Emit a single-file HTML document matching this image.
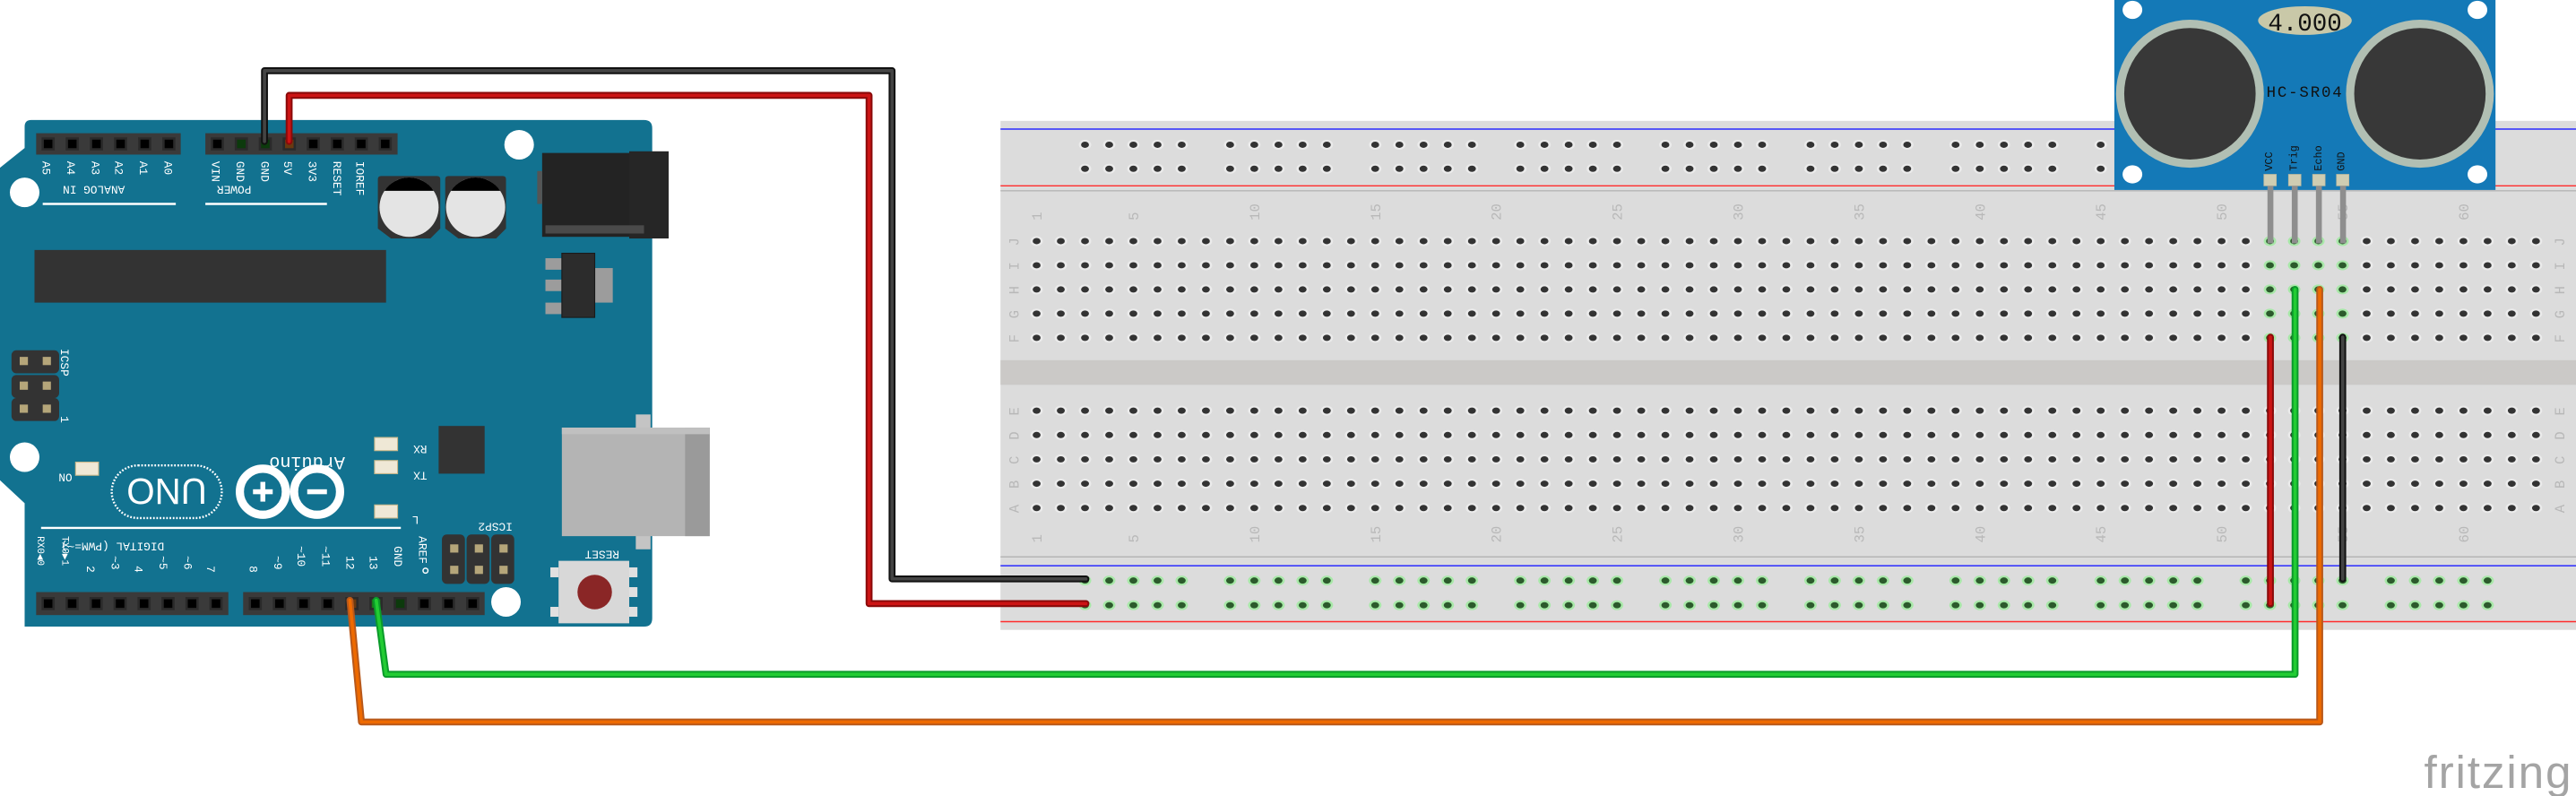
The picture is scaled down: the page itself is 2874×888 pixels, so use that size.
<!DOCTYPE html>
<html><head><meta charset="utf-8"><style>
html,body{margin:0;padding:0;background:#fff}
svg{display:block}
text{font-family:"Liberation Mono","DejaVu Sans Mono",monospace}
</style></head><body>
<svg id="s" width="2874" height="888" viewBox="0 0 1568 484" preserveAspectRatio="none" xmlns="http://www.w3.org/2000/svg">
<rect x="609" y="73.5" width="959" height="309.5" fill="#dcdcdc"/>
<rect x="609" y="219" width="959" height="15" fill="#cbc9c7"/>
<line x1="609" y1="78.5" x2="1568" y2="78.5" stroke="#2b2bff" stroke-width="0.8"/>
<line x1="609" y1="113" x2="1568" y2="113" stroke="#ff2b2b" stroke-width="0.8"/>
<line x1="609" y1="116" x2="1568" y2="116" stroke="#b5b5b5" stroke-width="0.8"/>
<line x1="609" y1="338.6" x2="1568" y2="338.6" stroke="#b5b5b5" stroke-width="0.8"/>
<line x1="609" y1="344" x2="1568" y2="344" stroke="#2b2bff" stroke-width="0.8"/>
<line x1="609" y1="378" x2="1568" y2="378" stroke="#ff2b2b" stroke-width="0.8"/>
<g id="holes"></g>
<g id="bblabels" fill="#b8b8b8" font-size="8.5"></g>

<path d="M19 73 H392 Q397 73 397 78 V376 Q397 381 392 381 H15 V306 L0 292 V102 L15 90 V77 Q15 73 19 73 Z" fill="#127290"/>
<rect x="22" y="81" width="88" height="13" fill="#3a3a3a"/>
<rect x="125" y="81" width="117" height="13" fill="#3a3a3a"/>
<rect x="22" y="360" width="117" height="14" fill="#3a3a3a"/>
<rect x="148" y="360" width="147" height="14" fill="#3a3a3a"/>
<g id="pins"></g>
<g fill="#fff" font-size="7">
<text transform="translate(26,98) rotate(90)">A5</text>
<text transform="translate(41,98) rotate(90)">A4</text>
<text transform="translate(56,98) rotate(90)">A3</text>
<text transform="translate(70,98) rotate(90)">A2</text>
<text transform="translate(85,98) rotate(90)">A1</text>
<text transform="translate(100,98) rotate(90)">A0</text>
<text transform="translate(129,98) rotate(90)">VIN</text>
<text transform="translate(144,98) rotate(90)">GND</text>
<text transform="translate(159,98) rotate(90)">GND</text>
<text transform="translate(173,98) rotate(90)">5V</text>
<text transform="translate(188,98) rotate(90)">3V3</text>
<text transform="translate(203,98) rotate(90)">RESET</text>
<text transform="translate(217,98) rotate(90)">IOREF</text>
<text transform="translate(76,113) rotate(180)">ANALOG IN</text>
<text transform="translate(153,113) rotate(180)">POWER</text>
<text transform="translate(100,330) rotate(180)">DIGITAL (PWM=~)</text>
<text transform="translate(23,326) rotate(90)" font-size="6">RX0◀0</text>
<text transform="translate(38,326) rotate(90)" font-size="6">TX0▶1</text>
<text transform="translate(53,344) rotate(90)">2</text>
<text transform="translate(68,338) rotate(90)">~3</text>
<text transform="translate(82,344) rotate(90)">4</text>
<text transform="translate(97,338) rotate(90)">~5</text>
<text transform="translate(112,338) rotate(90)">~6</text>
<text transform="translate(126,344) rotate(90)">7</text>
<text transform="translate(152,344) rotate(90)">8</text>
<text transform="translate(167,338) rotate(90)">~9</text>
<text transform="translate(181,332) rotate(90)">~10</text>
<text transform="translate(196,332) rotate(90)">~11</text>
<text transform="translate(211,338) rotate(90)">12</text>
<text transform="translate(225,338) rotate(90)">13</text>
<text transform="translate(240,332) rotate(90)">GND</text>
<text transform="translate(255,326) rotate(90)">AREF</text>
<text transform="translate(312,318) rotate(180)">ICSP2</text>
<text transform="translate(37,212) rotate(90)">ICSP</text>
<text transform="translate(37,253) rotate(90)">1</text>
<text transform="translate(44,288) rotate(180)">ON</text>
<text transform="translate(260,271) rotate(180)">RX</text>
<text transform="translate(260,287) rotate(180)">TX</text>
<text transform="translate(255,314) rotate(180)">L</text>
<text transform="translate(377,335) rotate(180)">RESET</text>
<text transform="translate(210,278) rotate(180)" font-size="11">Arduino</text>
</g>
<line x1="26" y1="124" x2="107" y2="124" stroke="#fff" stroke-width="1.3"/>
<line x1="125" y1="124" x2="199" y2="124" stroke="#fff" stroke-width="1.3"/>
<line x1="25" y1="321" x2="244" y2="321" stroke="#fff" stroke-width="1.3"/>
<circle cx="259" cy="347" r="1.5" fill="none" stroke="#fff" stroke-width="0.8"/>
<rect x="68" y="283" width="67" height="32" rx="16" fill="none" stroke="#fff" stroke-width="1.3" stroke-dasharray="1 1"/>
<text x="101.5" y="307" fill="#fff" font-size="22" text-anchor="middle" style="font-family:'Liberation Sans',sans-serif" transform="rotate(180 101.5 299)">UNO</text>
<circle cx="160" cy="299" r="14" fill="none" stroke="#fff" stroke-width="5"/>
<circle cx="193" cy="299" r="14" fill="none" stroke="#fff" stroke-width="5"/>
<rect x="154" y="297.5" width="12" height="3" fill="#fff"/><rect x="158.5" y="293" width="3" height="12" fill="#fff"/>
<rect x="187" y="297.5" width="12" height="3" fill="#fff"/>
<rect x="21" y="152" width="214" height="32" fill="#333"/>
<g>
<path d="M232 107 H266 Q268 107 268 109 V139 L262 145 H238 L230 139 V109 Q230 107 232 107Z" fill="#333"/>
<circle cx="249" cy="126" r="18" fill="#e4e4e4"/>
<path d="M234 116 A18 18 0 0 1 264 116 Z" fill="#000"/>
<path d="M273 107 H306 Q308 107 308 109 V139 L302 145 H279 L271 139 V109 Q271 107 273 107Z" fill="#333"/>
<circle cx="289.5" cy="126" r="18" fill="#e4e4e4"/>
<path d="M274.5 116 A18 18 0 0 1 304.5 116 Z" fill="#000"/>
</g>
<rect x="330" y="93" width="64" height="51" fill="#232323"/>
<rect x="383" y="92" width="24" height="53" fill="#262626"/>
<rect x="332" y="137" width="60" height="5" fill="#4a4a4a"/>
<rect x="327" y="104" width="3" height="20" fill="#555"/>
<rect x="332" y="157" width="10" height="7" fill="#9c9c9c"/>
<rect x="332" y="170" width="10" height="7" fill="#9c9c9c"/>
<rect x="332" y="184" width="10" height="7" fill="#9c9c9c"/>
<rect x="362" y="163" width="11" height="21" fill="#9c9c9c"/>
<rect x="342" y="154" width="20" height="39" fill="#2c2c2c" stroke="#1a1a1a" stroke-width="0.6"/>
<rect x="267" y="259" width="28" height="29" fill="#333"/>
<rect x="228" y="266" width="14" height="8" fill="#efe8d6" stroke="#c9b88a" stroke-width="0.6"/>
<rect x="228" y="280" width="14" height="8" fill="#efe8d6" stroke="#c9b88a" stroke-width="0.6"/>
<rect x="228" y="307" width="14" height="8" fill="#efe8d6" stroke="#c9b88a" stroke-width="0.6"/>
<rect x="46" y="281" width="14" height="8" fill="#efe8d6" stroke="#c9b88a" stroke-width="0.6"/>
<g fill="#333">
<rect x="7" y="213" width="29" height="14" rx="3"/><rect x="7" y="228" width="29" height="14" rx="3"/><rect x="7" y="242" width="29" height="14" rx="3"/>
<rect x="269" y="325" width="14" height="30" rx="3"/><rect x="284" y="325" width="14" height="30" rx="3"/><rect x="299" y="325" width="14" height="30" rx="3"/>
</g>
<g fill="#b5a67a">
<rect x="12" y="217" width="5" height="5"/><rect x="26" y="217" width="5" height="5"/>
<rect x="12" y="232" width="5" height="5"/><rect x="26" y="232" width="5" height="5"/>
<rect x="12" y="246" width="5" height="5"/><rect x="26" y="246" width="5" height="5"/>
<rect x="274" y="331" width="5" height="5"/><rect x="289" y="331" width="5" height="5"/><rect x="304" y="331" width="5" height="5"/>
<rect x="274" y="344" width="5" height="5"/><rect x="289" y="344" width="5" height="5"/><rect x="304" y="344" width="5" height="5"/>
</g>
<rect x="387" y="252" width="9" height="82" fill="#c4c4c4"/>
<rect x="342" y="260" width="90" height="66" fill="#b4b4b4"/>
<rect x="417" y="260" width="15" height="66" fill="#9a9a9a"/>
<rect x="342" y="260" width="90" height="4" fill="#c0c0c0"/>
<rect x="335" y="345" width="5" height="6" fill="#e0e0e0"/><rect x="383" y="345" width="5" height="6" fill="#e0e0e0"/>
<rect x="335" y="369" width="5" height="6" fill="#e0e0e0"/><rect x="383" y="369" width="5" height="6" fill="#e0e0e0"/>
<rect x="383" y="357" width="5" height="6" fill="#e0e0e0"/>
<rect x="340" y="341" width="43" height="38" fill="#d8d8d8"/>
<circle cx="362" cy="360" r="10.5" fill="#8a2626"/>
<g fill="#fff">
<circle cx="316" cy="88" r="9"/><circle cx="15" cy="117" r="9"/><circle cx="15" cy="278" r="9"/><circle cx="308" cy="366" r="9"/>
</g>

<rect x="1287" y="0" width="232" height="115.5" fill="#1479b7"/>
<g fill="#fff">
<ellipse cx="1298" cy="6" rx="6" ry="5.5"/><ellipse cx="1508" cy="6" rx="6" ry="5.5"/>
<ellipse cx="1298" cy="106" rx="6" ry="5.5"/><ellipse cx="1508" cy="106" rx="6" ry="5.5"/>
</g>
<circle cx="1333" cy="57" r="45" fill="#b1bfb3"/><circle cx="1333" cy="57" r="40" fill="#383838"/>
<circle cx="1473" cy="57" r="45" fill="#b1bfb3"/><circle cx="1473" cy="57" r="40" fill="#383838"/>
<ellipse cx="1403" cy="12.5" rx="28.5" ry="8.7" fill="#c9c8a8"/>
<text x="1403" y="18.5" font-size="15" text-anchor="middle" fill="#111">4.000</text>
<text x="1403" y="59" font-size="9.5" text-anchor="middle" fill="#111" letter-spacing="1">HC-SR04</text>
<g font-size="6.5" fill="#111">
<text transform="translate(1383,104) rotate(-90)">VCC</text>
<text transform="translate(1398,104) rotate(-90)">Trig</text>
<text transform="translate(1413,104) rotate(-90)">Echo</text>
<text transform="translate(1427,104) rotate(-90)">GND</text>
</g>
<g fill="#cfcdb2" stroke="#b8b69b" stroke-width="0.4">
<rect x="1378" y="106" width="7.6" height="7"/><rect x="1393" y="106" width="7.6" height="7"/>
<rect x="1407.7" y="106" width="7.6" height="7"/><rect x="1422.2" y="106" width="7.6" height="7"/>
</g>
<g stroke="#8e8e8e" stroke-width="3.6">
<line x1="1382" y1="113" x2="1382" y2="148"/><line x1="1396.8" y1="113" x2="1396.8" y2="148"/>
<line x1="1411.5" y1="113" x2="1411.5" y2="148"/><line x1="1426.2" y1="113" x2="1426.2" y2="148"/>
</g>

<g fill="none" stroke-linejoin="round" stroke-linecap="round">
<polyline points="161,86 161,43 543,43 543,352 661,352" stroke="#111" stroke-width="4.2"/>
<polyline points="161,86 161,43 543,43 543,352 661,352" stroke="#444" stroke-width="2"/>
<polyline points="176,86 176,58 529,58 529,367 661,367" stroke="#8a0a0a" stroke-width="4.2"/>
<polyline points="176,86 176,58 529,58 529,367 661,367" stroke="#cc1414" stroke-width="2"/>
<line x1="1382" y1="205" x2="1382" y2="367" stroke="#8a0a0a" stroke-width="4.2"/>
<line x1="1382" y1="205" x2="1382" y2="367" stroke="#cc1414" stroke-width="2"/>
<line x1="1426" y1="205" x2="1426" y2="352" stroke="#111" stroke-width="4.2"/>
<line x1="1426" y1="205" x2="1426" y2="352" stroke="#444" stroke-width="2"/>
<polyline points="229,365 235,410 1397,410 1397,176" stroke="#0a9a2a" stroke-width="4.2"/>
<polyline points="229,365 235,410 1397,410 1397,176" stroke="#22cc33" stroke-width="2"/>
<polyline points="213,365 220,439 1412,439 1412,176" stroke="#b8581a" stroke-width="4.2"/>
<polyline points="213,365 220,439 1412,439 1412,176" stroke="#ee6a00" stroke-width="2"/>
</g>

<text x="1566" y="479" font-size="28" text-anchor="end" fill="#a4a4a4" style="font-family:'Liberation Sans','DejaVu Sans',sans-serif;letter-spacing:1px">fritzing</text>
</svg>
<script>
var NS="http://www.w3.org/2000/svg";
function el(p,t,a){var e=document.createElementNS(NS,t);for(var k in a)e.setAttribute(k,a[k]);p.appendChild(e);return e;}
var H=document.getElementById("holes");
function hole(x,y,g){el(H,"ellipse",{cx:x,cy:y,rx:3.8,ry:3,fill:g?"#a8e8a8":"#ebebeb"});el(H,"ellipse",{cx:x,cy:y,rx:2.4,ry:1.9,fill:g?"#2c5a2c":"#333"});}
function cx(c){return 631+(c-1)*14.72;}
var rowsT=[146.6,161.3,176,190.7,205.4],rowsB=[249.7,264.5,279.3,294.1,308.9];
for(var c=1;c<=63;c++){for(var i=0;i<5;i++){hole(cx(c),rowsT[i],c>=52&&c<=55);hole(cx(c),rowsB[i],false);}}
for(var k=0;k<10;k++){for(var j=0;j<5;j++){var x=cx(3+6*k+j);if(x<1285){hole(x,88,false);hole(x,102.6,false);}hole(x,353,true);hole(x,368,true);}}
var L=document.getElementById("bblabels");
var nums=[1,5,10,15,20,25,30,35,40,45,50,55,60];
nums.forEach(function(n){var x=cx(n)+3;var t=el(L,"text",{transform:"translate("+x+",134) rotate(-90)"});t.textContent=n;var t2=el(L,"text",{transform:"translate("+x+",330) rotate(-90)"});t2.textContent=n;});
"JIHGF".split("").forEach(function(ch,i){[620,1561].forEach(function(x){var t=el(L,"text",{transform:"translate("+x+","+(rowsT[i]+3)+") rotate(-90)"});t.textContent=ch;});});
"EDCBA".split("").forEach(function(ch,i){[620,1561].forEach(function(x){var t=el(L,"text",{transform:"translate("+x+","+(rowsB[i]+3)+") rotate(-90)"});t.textContent=ch;});});
var P=document.getElementById("pins");
function pin(x,y,col){el(P,"rect",{x:x-4,y:y-4,width:8,height:8,fill:"#2a2a2a"});el(P,"rect",{x:x-2.6,y:y-2.6,width:5.2,height:5.2,fill:col||"#000"});}
for(var i=0;i<6;i++)pin(29.3+i*14.7,87.5);
for(var i=0;i<8;i++)pin(132.3+i*14.6,87.5,(i==1||i==2)?"#0c3a0c":(i==3?"#6a3a10":null));
for(var i=0;i<8;i++)pin(29.3+i*14.6,367);
for(var i=0;i<10;i++)pin(155.4+i*14.7,367,i==4?"#6a3a10":(i==5?"#1a7a1a":(i==6?"#0c3a0c":null)));
</script>
</body></html>
